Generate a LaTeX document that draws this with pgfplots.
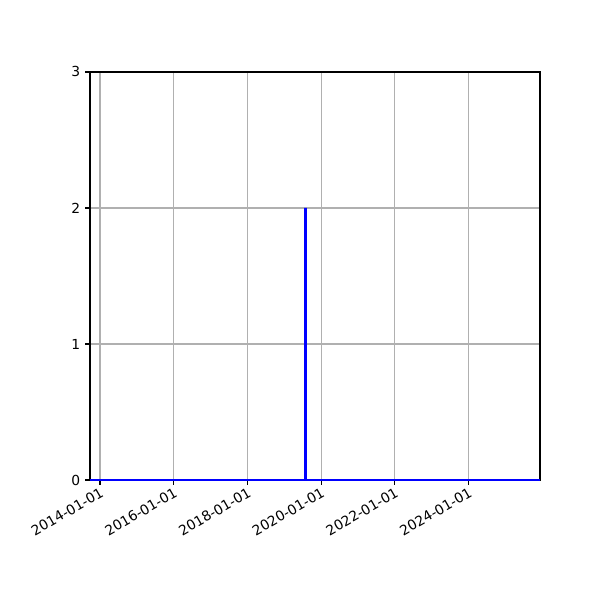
\documentclass[border=0pt]{standalone}
\usepackage{pgfplots}
\pgfplotsset{compat=1.18}
\usepackage{fontspec}
\setmainfont{DejaVu Sans}
\definecolor{gridgray}{HTML}{B0B0B0}
\begin{document}
\begin{tikzpicture}
\begin{axis}[
  at={(0,0)}, anchor=south west,
  scale only axis,
  width=325.2pt, height=294.9pt,
  xmin=2013.729, xmax=2025.94,
  ymin=0, ymax=3,
  ytick={0,1,2,3},
  xtick={2014,2016,2018,2020,2022,2024},
  xticklabels={2014-01-01,2016-01-01,2018-01-01,2020-01-01,2022-01-01,2024-01-01},
  x tick label style={rotate=30, anchor=north east, font=\fontsize{10}{12}\selectfont, inner sep=1pt},
  y tick label style={font=\fontsize{10}{12}\selectfont},
  /pgf/number format/assume math mode=true,
  tick align=outside,
  major tick length=3.5pt,
  tick style={black, line width=0.8pt},
  axis line style={line width=0.8pt},
  grid=major,
  grid style={gridgray, line width=0.8pt},
  xtick pos=bottom, ytick pos=left,
  set layers=standard,
  clip=false,
]
\addplot[blue, line width=2pt] coordinates {
  (2013.729,0) (2019.57,0) (2019.57,2) (2019.57,0) (2025.94,0)
};
\end{axis}
\path (-65.04pt,-86.72pt) rectangle (368.6pt,346.9pt);
\end{tikzpicture}
\end{document}
